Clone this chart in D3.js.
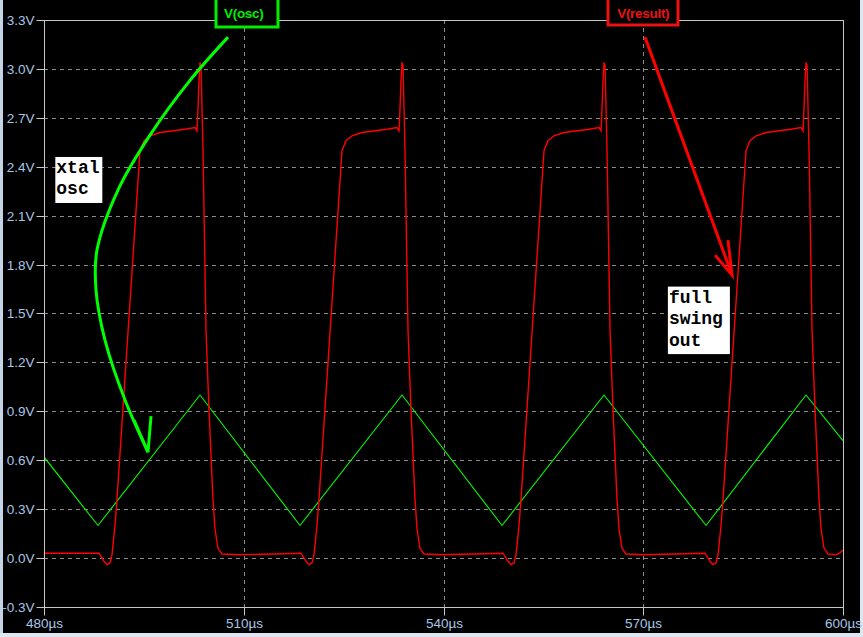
<!DOCTYPE html>
<html><head><meta charset="utf-8">
<script src="https://cdn.jsdelivr.net/npm/d3@7"></script>
<style>html,body{margin:0;padding:0;background:#000;overflow:hidden}</style>
</head><body>
<svg id="c" width="863" height="637"></svg>
<script>
// ---- data ----
const yTicks = [-0.3,0.0,0.3,0.6,0.9,1.2,1.5,1.8,2.1,2.4,2.7,3.0,3.3];
const xTicks = [480,510,540,570,600];
const yTickLabels = ["-0.3V","0.0V","0.3V","0.6V","0.9V","1.2V","1.5V","1.8V","2.1V","2.4V","2.7V","3.0V","3.3V"];
const xTickLabels = ["480µs","510µs","540µs","570µs","600µs"];

// V(osc): time (µs), volts
const oscT = [480.00,488.11,503.43,518.45,533.77,548.79,564.11,579.43,594.45,600.00];
const oscV = [0.62,0.20,1.00,0.20,1.00,0.20,1.00,0.20,1.00,0.72];

// V(result): time (µs), volts
const resT = [480.00,
 488.26,488.56,489.01,489.46,489.91,490.21,490.66,490.96,494.42,495.02,495.92,497.42,501.18,502.68,502.98,503.13,503.28,503.43,503.58,503.88,504.33,504.78,505.38,505.68,506.13,506.73,509.44,
 518.60,518.90,519.35,519.80,520.25,520.55,521.00,521.30,524.76,525.36,526.26,527.76,531.52,533.02,533.32,533.47,533.62,533.77,533.92,534.22,534.67,535.12,535.72,536.02,536.47,537.07,539.78,
 548.94,549.24,549.69,550.14,550.59,550.89,551.34,551.64,555.10,555.70,556.60,558.10,561.86,563.36,563.66,563.81,563.96,564.11,564.26,564.56,565.01,565.46,566.06,566.36,566.81,567.41,570.12,
 579.28,579.58,580.03,580.48,580.93,581.23,581.68,581.98,585.44,586.04,586.94,588.44,592.20,593.70,594.00,594.15,594.30,594.45,594.60,594.90,595.35,595.80,596.40,596.70,597.15,597.75,598.90,599.50,600.00];
const resV = [0.03,
 0.03,0.01,-0.02,-0.04,-0.03,0.02,0.20,0.36,2.50,2.56,2.59,2.61,2.63,2.64,2.62,2.76,2.93,3.04,3.02,2.50,1.40,0.91,0.36,0.18,0.06,0.025,0.02,
 0.03,0.01,-0.02,-0.04,-0.03,0.02,0.20,0.36,2.50,2.56,2.59,2.61,2.63,2.64,2.62,2.76,2.93,3.04,3.02,2.50,1.40,0.91,0.36,0.18,0.06,0.025,0.02,
 0.03,0.01,-0.02,-0.04,-0.03,0.02,0.20,0.36,2.50,2.56,2.59,2.61,2.63,2.64,2.62,2.76,2.93,3.04,3.02,2.50,1.40,0.91,0.36,0.18,0.06,0.025,0.02,
 0.03,0.01,-0.02,-0.04,-0.03,0.02,0.20,0.36,2.50,2.56,2.59,2.61,2.63,2.64,2.62,2.76,2.93,3.04,3.02,2.50,1.40,0.91,0.36,0.18,0.06,0.025,0.02,0.03,0.05];

// annotations (data coordinates)
const greenArrowT = [507.64,501.93,495.92,491.11,487.96,487.81,489.16,492.17,495.62];
const greenArrowV = [3.195,2.93,2.594,2.257,1.889,1.644,1.337,0.969,0.650];
const greenBarbT = [493.52,495.62,496.07];
const greenBarbV = [0.846,0.650,0.871];
const redArrowT = [570.26,583.33];
const redArrowV = [3.195,1.736];
const redBarbT = [580.78,583.33,582.73];
const redBarbV = [1.858,1.736,1.950];
const noteOsc = ["xtal","osc"];
const noteRes = ["full","swing","out"];

// ---- drawing ----
const svg = d3.select("#c");
const W = 863, H = 637;
const L = 44, R = 843, T = 20, B = 607;
const x = d3.scaleLinear().domain([480,600]).range([L,R]);
const y = d3.scaleLinear().domain([-0.3,3.3]).range([B,T]);

svg.append("rect").attr("width",W).attr("height",H).attr("fill","#000");
// window borders
svg.append("rect").attr("x",0).attr("y",0).attr("width",3).attr("height",H).attr("fill","#c4d4e6");
svg.append("rect").attr("x",0).attr("y",633).attr("width",W).attr("height",4).attr("fill","#dde7f1");
svg.append("rect").attr("x",860).attr("y",0).attr("width",3).attr("height",H).attr("fill","#dde7f1");

const font = "'Liberation Sans', Arial, sans-serif";
const labelColor = "#a9c6e6";

// grid
const grid = svg.append("g");
grid.selectAll("line.h").data(yTicks.filter(v=>v>-0.3 && v<3.3)).enter().append("line")
  .attr("x1",L).attr("x2",R).attr("y1",d=>Math.round(y(d))+0.5).attr("y2",d=>Math.round(y(d))+0.5)
  .attr("stroke","#8a8a8a").attr("stroke-width",1).attr("stroke-dasharray","4,4");
grid.selectAll("line.v").data(xTicks.filter(v=>v>480 && v<600)).enter().append("line")
  .attr("y1",T).attr("y2",B).attr("x1",d=>Math.round(x(d))+0.5).attr("x2",d=>Math.round(x(d))+0.5)
  .attr("stroke","#8a8a8a").attr("stroke-width",1).attr("stroke-dasharray","4,4");

// axes
const yAxis = d3.axisLeft(y).tickValues(yTicks).tickSize(8).tickPadding(2)
  .tickFormat((d,i)=>yTickLabels[i]);
const gy = svg.append("g").attr("transform",`translate(${L+0.5},0)`).call(yAxis);
const xAxis = d3.axisBottom(x).tickValues(xTicks).tickSize(8).tickPadding(3)
  .tickFormat((d,i)=>xTickLabels[i]);
const gx = svg.append("g").attr("transform",`translate(0,${B+0.5})`).call(xAxis);
[gx,gy].forEach(g=>{
  g.select(".domain").remove();
  g.selectAll(".tick line").attr("stroke","#c8c8c8");
  g.selectAll("text").attr("fill",labelColor).style("font-family",font).style("font-size","13.5px");
});
gy.selectAll(".tick").attr("transform",d=>`translate(0,${Math.round(y(d))+0.5})`);
gx.selectAll(".tick").attr("transform",d=>`translate(${Math.round(x(d))+0.5},0)`);
// frame
svg.append("rect").attr("x",L+0.5).attr("y",T+0.5).attr("width",R-L).attr("height",B-T)
  .attr("fill","none").attr("stroke","#c8c8c8").attr("stroke-width",1);

// series
const clip = svg.append("clipPath").attr("id","pc").append("rect")
  .attr("x",L+1).attr("y",T+1).attr("width",R-L-1).attr("height",B-T-1);
const line = d3.line().x(d=>x(d[0])).y(d=>y(d[1]));
svg.append("path").attr("clip-path","url(#pc)")
  .attr("d",line(oscT.map((t,i)=>[t,oscV[i]])))
  .attr("fill","none").attr("stroke","#00ff00").attr("stroke-width",1.1);
svg.append("path").attr("clip-path","url(#pc)")
  .attr("d",line(resT.map((t,i)=>[t,resV[i]])))
  .attr("fill","none").attr("stroke","#ff0000").attr("stroke-width",1.4);

// arrows
const curve = d3.line().x(d=>x(d[0])).y(d=>y(d[1])).curve(d3.curveCatmullRom.alpha(0.5));
svg.append("path").attr("d",curve(greenArrowT.map((t,i)=>[t,greenArrowV[i]])))
  .attr("fill","none").attr("stroke","#00ff00").attr("stroke-width",3);
svg.append("path").attr("d",line(greenBarbT.map((t,i)=>[t,greenBarbV[i]])))
  .attr("fill","none").attr("stroke","#00ff00").attr("stroke-width",3);
svg.append("path").attr("d",line(redArrowT.map((t,i)=>[t,redArrowV[i]])))
  .attr("fill","none").attr("stroke","#ff0000").attr("stroke-width",3);
svg.append("path").attr("d",line(redBarbT.map((t,i)=>[t,redBarbV[i]])))
  .attr("fill","none").attr("stroke","#ff0000").attr("stroke-width",3);

// trace labels
function traceLabel(t, txt, color, x0, x1, yb){
  svg.append("rect").attr("x",x0).attr("y",-5).attr("width",x1-x0).attr("height",yb+5)
    .attr("fill","#000").attr("stroke",color).attr("stroke-width",3);
  svg.append("text").attr("x",x(t)).attr("y",17.5).attr("text-anchor","middle")
    .attr("fill",color).style("font-family",font).style("font-size","13.5px").style("font-weight","bold")
    .style("letter-spacing","-0.3px").text(txt);
}
traceLabel(510,"V(osc)","#00ee00",Math.round(x(510))-28,Math.round(x(510))+34,27);
traceLabel(570,"V(result)","#ee1111",Math.round(x(570))-35,Math.round(x(570))+35,25);

// notes
const mono = "'Liberation Mono', 'Courier New', monospace";
function note(lines, t, v, w){
  const gx0 = x(t), gy0 = y(v);
  const lh = 21.5;
  svg.append("rect").attr("x",gx0).attr("y",gy0).attr("width",w).attr("height",lines.length*lh+3).attr("fill","#fff");
  lines.forEach((s,i)=>{
    svg.append("text").attr("x",gx0+1).attr("y",gy0+16+i*lh)
      .attr("fill","#000").style("font-family",mono).style("font-size","18px").style("font-weight","bold").text(s);
  });
}
note(noteOsc, 481.7, 2.46, 47);
note(noteRes, 573.7, 1.665, 62);
</script>
</body></html>
